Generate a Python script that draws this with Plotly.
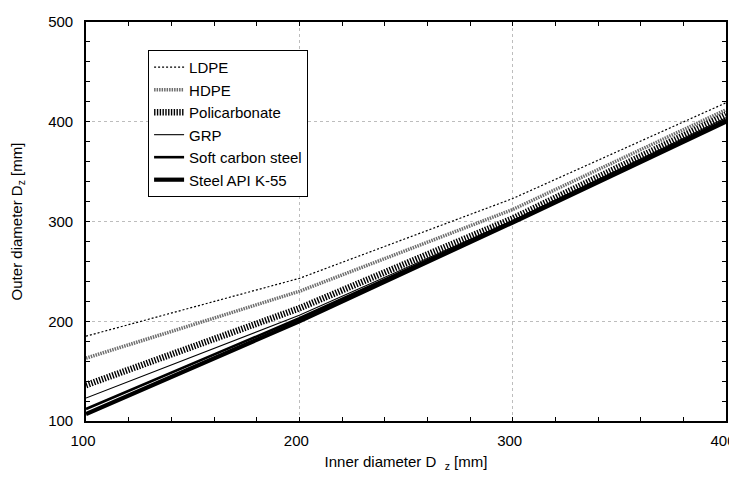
import plotly.graph_objects as go

inner_d = [100, 200, 300, 400]
names = ["LDPE", "HDPE", "Policarbonate", "GRP", "Soft carbon steel", "Steel API K-55"]
ldpe = [185, 243, 323, 419]
hdpe = [163, 230, 312, 412]
poli = [136, 213, 303, 407]
grp = [123, 206, 301, 404]
soft = [112, 203, 300, 402]
api = [107, 200, 299, 400]
series = [ldpe, hdpe, poli, grp, soft, api]

styles = [
    dict(color="black", width=1.2, dash="2px,2px"),
    dict(color="#6e6e6e", width=3.5, dash="1.5px,1px"),
    dict(color="black", width=6.5, dash="1.4px,1.4px"),
    dict(color="black", width=1.1),
    dict(color="black", width=2.6),
    dict(color="black", width=4.2),
]

fig = go.Figure()
for i, (n, ys) in enumerate(zip(names, series)):
    fig.add_trace(go.Scatter(x=inner_d, y=ys, mode="lines", name=n, line=styles[i]))

FAM = "Liberation Sans, Arial, sans-serif"
font = dict(family=FAM, size=15, color="black")
axis_common = dict(
    showline=True, linecolor="black", linewidth=1.6, mirror="ticks",
    ticks="inside", ticklen=4, tickcolor="black", tickwidth=1,
    showgrid=True, gridcolor="#bdbdbd", griddash="dot", gridwidth=1,
    zeroline=False, tickfont=font, automargin=False, ticklabeloverflow="allow",
    minor=dict(dtick=20, ticks="inside", ticklen=4, tickcolor="black", showgrid=False),
)

# the page body has an 8px margin, so the figure is sized to fit the window
fig.update_layout(
    width=729, height=464,
    margin=dict(l=78, r=11, t=14, b=51),
    paper_bgcolor="white", plot_bgcolor="white",
    font=font,
    showlegend=True,
    legend=dict(x=0.097, y=0.93, xanchor="left", yanchor="top",
                bordercolor="black", borderwidth=1, bgcolor="white",
                font=dict(family=FAM, size=15, color="black"),
                traceorder="normal"),
    xaxis=dict(range=[100, 400], dtick=100, ticklabelstandoff=5, ticklabelshift=-3,
               title=dict(text="Inner diameter D  <sub>z</sub> [mm]", font=font, standoff=10),
               **axis_common),
    yaxis=dict(range=[100, 500], dtick=100, ticklabelstandoff=8,
               title=dict(text="Outer diameter D<sub>z</sub> [mm]", font=font, standoff=23),
               **axis_common),
)

fig.write_html("out.html")
